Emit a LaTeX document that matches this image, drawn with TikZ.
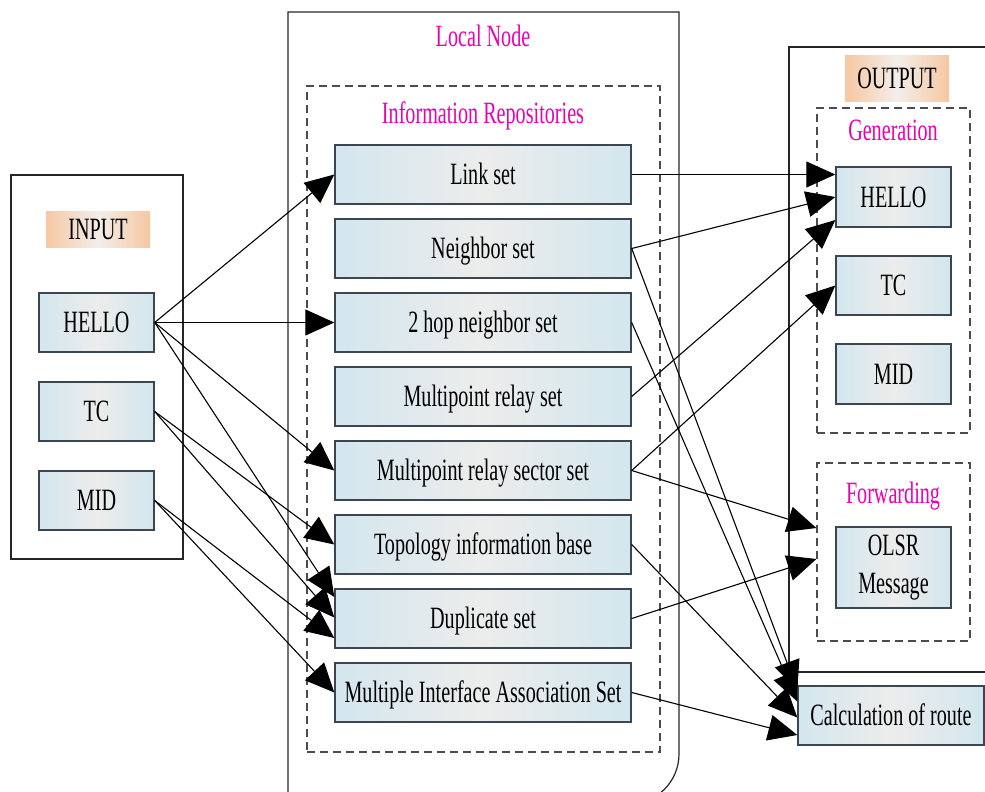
\documentclass[tikz,border=0pt]{standalone}
\usepackage{fontspec}
\setmainfont{Liberation Serif}[FakeStretch=0.65]
\usetikzlibrary{arrows.meta,calc}
\definecolor{boxblue}{HTML}{D3E7EE}
\definecolor{boxmid}{HTML}{ECECEC}
\definecolor{boxline}{HTML}{3C4650}
\definecolor{lblorange}{HTML}{F6C7A2}
\definecolor{lblmid}{HTML}{F3EEEA}
\definecolor{mag}{HTML}{E800B0}
\begin{document}
\begin{tikzpicture}[x=1pt,y=-1pt,
  every node/.style={font=\fontsize{31}{36}\selectfont, inner sep=0pt, text height=20.5pt, text depth=0pt},
  setbox/.style={draw=boxline, line width=1.4pt, left color=boxblue, right color=boxblue, middle color=boxmid, minimum width=296pt, minimum height=59pt},
  smallbox/.style={setbox, minimum width=115pt},
  lbl/.style={left color=lblorange, right color=lblorange, middle color=lblmid, minimum width=104pt},
  titletext/.style={text=mag},
  frame/.style={draw=black!85, line width=1.2pt},
  dashbox/.style={draw=black!70, line width=1.2pt, dash pattern=on 8pt off 5pt},
  conn/.style={line width=1.1pt, -{Triangle[length=29pt,width=26pt]}}
]
\useasboundingbox (0,0) rectangle (985,792);

% frames
\draw[frame] (11,175) rectangle (183,559);
\draw[frame] (288,815) -- (288,12) -- (679,12) -- (679,754) arc[start angle=0, end angle=-90, radius=50pt] -- (288,804);
\draw[frame] (1000,672) -- (789,672) -- (789,47) -- (1000,47);

% dashed groups
\node[dashbox, minimum width=353pt, minimum height=666pt] (repo) at (483.5,419) {};
\node[dashbox, minimum width=153pt, minimum height=325pt] (gen) at (893.5,270.5) {};
\node[dashbox, minimum width=153pt, minimum height=178pt] (fwd) at (893.5,552) {};

% titles
\node[titletext] (lntitle) at (483,36) {Local Node};
\node[titletext] (irtitle) at (483,113) {Information Repositories};
\node[titletext] (gentitle) at (893,130) {Generation};
\node[titletext] (fwdtitle) at (893,493) {Forwarding};

% input
\node[lbl, minimum height=36pt] (inlbl) at (98,229) {INPUT};
\node[smallbox] (ihello) at (96.5,322.5) {HELLO};
\node[smallbox] (itc) at (96.5,411.5) {TC};
\node[smallbox] (imid) at (96.5,500.5) {MID};

% repositories
\node[setbox] (link) at (483,174.5) {Link set};
\node[setbox] (neigh) at (483,248.5) {Neighbor set};
\node[setbox] (hop2) at (483,322.5) {2 hop neighbor set};
\node[setbox] (mpr) at (483,396.5) {Multipoint relay set};
\node[setbox] (mprs) at (483,470.5) {Multipoint relay sector set};
\node[setbox] (topo) at (483,544.5) {Topology information base};
\node[setbox] (dup) at (483,618.5) {Duplicate set};
\node[setbox] (mia) at (483,692.5) {Multiple Interface Association Set};

% output
\node[lbl, minimum height=45pt] (outlbl) at (897,78.5) {OUTPUT};
\node[smallbox, minimum height=60pt] (ohello) at (893.5,197) {HELLO};
\node[smallbox] (otc) at (893.5,285.5) {TC};
\node[smallbox, minimum height=60pt] (omid) at (893.5,374) {MID};
\node[smallbox, minimum height=81pt, align=center, text height=, text depth=, font=\fontsize{31}{38}\selectfont] (olsr) at (893.5,567.5) {OLSR\\Message};
\node[setbox, minimum width=186pt] (calc) at (891,715.5) {Calculation of route};

% input connectors
\draw[conn] (ihello.east) -- (link.west);
\draw[conn] (ihello.east) -- (hop2.west);
\draw[conn] (ihello.east) -- (mprs.west);
\draw[conn] (ihello.east) -- ($(dup.west)+(0,-21.5)$);
\draw[conn] (itc.east) -- (topo.west);
\draw[conn] (itc.east) -- ($(dup.west)+(0,-1)$);
\draw[conn] (imid.east) -- ($(dup.west)+(0,19.5)$);
\draw[conn] (imid.east) -- (mia.west);

% output connectors
\draw[conn] (link.east) -- ($(ohello.west)+(0,-22.5)$);
\draw[conn] (neigh.east) -- (ohello.west);
\draw[conn] (mpr.east) -- ($(ohello.west)+(0,23)$);
\draw[conn] (mprs.east) -- (otc.west);
\draw[conn] (mprs.east) -- ($(fwd.west)+(0,-24)$);
\draw[conn] (dup.east) -- ($(fwd.west)+(0,7)$);
\draw[conn] (neigh.east) -- ($(calc.west)+(0,-25.5)$);
\draw[conn] (hop2.east) -- ($(calc.west)+(0,-14)$);
\draw[conn] (topo.east) -- ($(calc.west)+(0,2)$);
\draw[conn] (mia.east) -- ($(calc.west)+(0,19.5)$);
\end{tikzpicture}
\end{document}
